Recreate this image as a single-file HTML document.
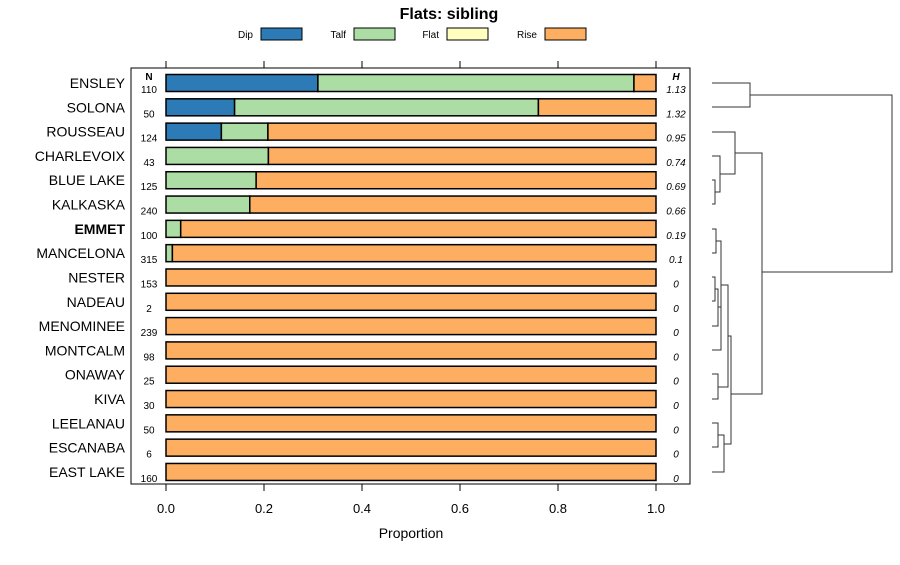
<!DOCTYPE html>
<html><head><meta charset="utf-8"><style>
body{margin:0;background:#fff;font-family:"Liberation Sans",sans-serif}
svg text{font-family:"Liberation Sans",sans-serif}
</style></head><body>
<svg id="chart" width="900" height="560" xmlns="http://www.w3.org/2000/svg">
<text x="449" y="19" text-anchor="middle" font-size="16" font-weight="bold">Flats: sibling</text>
<g id="legend"></g>
<rect x="131" y="68" width="559" height="416" fill="none" stroke="#000" stroke-width="1"/>
<g id="bars"></g>
<g id="axes"></g>
<text x="411" y="538" text-anchor="middle" font-size="14">Proportion</text>
<text x="149" y="80" text-anchor="middle" font-size="10" font-weight="bold">N</text>
<text x="676" y="80" text-anchor="middle" font-size="10" font-weight="bold" font-style="italic">H</text>
<g fill="none" stroke="#333" stroke-width="1">
<path d="M712 83H750V107H712 M750 95H892V272H762"/>
<path d="M712 132H735V174H720 M735 153H762V394H731"/>
<path d="M712 156H720V192H715 M712 180H715V204H712"/>
<path d="M712 229H716V253H712 M716 241H721V350H712 M712 277H715V301H712 M715 289H718V326H712 M718 307H721"/>
<path d="M721 285H728V387H718 M712 374H718V399H712 M728 336H731V444H724 M712 423H718V447H712 M718 435H724V472H712"/>
</g>
</svg>
<script>
const categories=["ENSLEY","SOLONA","ROUSSEAU","CHARLEVOIX","BLUE LAKE","KALKASKA","EMMET","MANCELONA","NESTER","NADEAU","MENOMINEE","MONTCALM","ONAWAY","KIVA","LEELANAU","ESCANABA","EAST LAKE"];
const dip=[0.31,0.14,0.113,0,0,0,0,0,0,0,0,0,0,0,0,0,0];
const talf=[0.645,0.62,0.095,0.209,0.184,0.171,0.03,0.013,0,0,0,0,0,0,0,0,0];
const flat=[0,0,0,0,0,0,0,0,0,0,0,0,0,0,0,0,0];
const rise=[0.045,0.24,0.792,0.791,0.816,0.829,0.97,0.987,1,1,1,1,1,1,1,1,1];
const nVals=[110,50,124,43,125,240,100,315,153,2,239,98,25,30,50,6,160];
const hVals=["1.13","1.32","0.95","0.74","0.69","0.66","0.19","0.1","0","0","0","0","0","0","0","0","0"];
const ticks=[0,0.2,0.4,0.6,0.8,1.0];
const tickLabels=["0.0","0.2","0.4","0.6","0.8","1.0"];
const seriesNames=["Dip","Talf","Flat","Rise"];
const colors=["#2c7bb6","#abdda4","#ffffbf","#fdae61"];
const NS="http://www.w3.org/2000/svg";
const xs=v=>166+v*490;
const ys=i=>83+i*24.31;
function mk(tag,attrs,parent){const e=document.createElementNS(NS,tag);for(const k in attrs)e.setAttribute(k,attrs[k]);parent.appendChild(e);return e;}
const bars=document.getElementById('bars');
const series=[dip,talf,flat,rise];
categories.forEach((c,i)=>{
  let acc=0;const y=ys(i);
  series.forEach((s,k)=>{
    const v=s[i];if(v<=0)return;
    const r=mk('rect',{x:xs(acc),y:y-8.5,width:v*490,height:17,fill:colors[k],stroke:'#000','stroke-width':1.5},bars);
    
    
    acc+=v;
  });
  const t=mk('text',{x:125,y:y+5,'text-anchor':'end','font-size':14,'font-weight':c==='EMMET'?'bold':'normal'},bars);
  t.textContent=c;
  
  
  const n=mk('text',{x:149,y:y+10,'text-anchor':'middle','font-size':10},bars);
  n.textContent=nVals[i];
  
  
  const h=mk('text',{x:676,y:y+10,'text-anchor':'middle','font-size':10,'font-style':'italic'},bars);
  h.textContent=hVals[i];
  
  
});
const axes=document.getElementById('axes');
ticks.forEach((t,i)=>{
  const a=mk('line',{x1:xs(t),x2:xs(t),y1:484,y2:491,stroke:'#000'},axes);
  
  
  const b=mk('line',{x1:xs(t),x2:xs(t),y1:61,y2:68,stroke:'#000'},axes);
  
  
  const l=mk('text',{x:xs(t),y:513,'text-anchor':'middle','font-size':13},axes);
  l.textContent=tickLabels[i];
  
  
});
const lg=document.getElementById('legend');
const lx=[261,354,447,545];
seriesNames.forEach((s,k)=>{
  const t=mk('text',{x:lx[k]-8,y:38,'text-anchor':'end','font-size':10},lg);
  t.textContent=s;
  
  
  const r=mk('rect',{x:lx[k],y:28,width:41,height:12,fill:colors[k],stroke:'#000'},lg);
  
  
});
</script>
</body></html>
